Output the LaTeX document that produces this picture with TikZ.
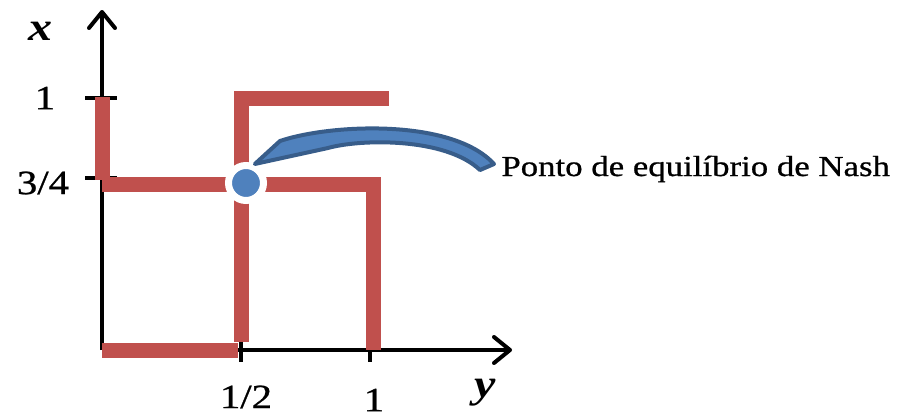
\documentclass[tikz,border=0pt]{standalone}
\usepackage{fontspec}
\setmainfont{Liberation Serif}[FakeStretch=1.2, UprightFeatures={FakeBold=0.8}]
\usetikzlibrary{arrows.meta}
\definecolor{nashred}{HTML}{C0504D}
\definecolor{nashblue}{HTML}{4F81BD}
\definecolor{nashedge}{HTML}{385D8A}

\begin{document}
\begin{tikzpicture}[
  x=0.5pt, y=-0.5pt,
  axis/.style={line width=2pt, -{Straight Barb[length=8pt, width=13pt, round]}},
  tickmark/.style={line width=2pt},
  redline/.style={line width=7.5pt, draw=nashred},
  num/.style={font=\fontsize{17}{20}\selectfont},
  var/.style={font=\fontsize{20}{24}\selectfont\bfseries\itshape},
  callout/.style={fill=nashblue, draw=nashedge, line width=2pt, line join=round}
]
\useasboundingbox (0,0) rectangle (905,418);

% axes
\coordinate (o) at (102,350);
\coordinate (ytop) at (102,10);
\coordinate (xend) at (512,350);
\draw[axis] (o) -- (ytop);
\draw[axis] (o) -- (xend);

% ticks
\draw[tickmark] (85,98) -- (117,98);
\draw[tickmark] (85,178) -- (117,178);
\draw[tickmark] (241,341) -- (241,362);
\draw[tickmark] (370,339) -- (370,362);

% best responses
\draw[redline] (102,97) -- (102,180);
\draw[redline] (102,184) -- (371,184);
\draw[redline] (373,177) -- (373,350);
\draw[redline] (102,350) -- (238,350);
\draw[redline] (241,91) -- (241,342);
\draw[redline] (235,98) -- (389,98);

% equilibrium point
\node[circle, fill=nashblue, draw=white, line width=3.5pt, minimum size=17.5pt, inner sep=0pt] (nash) at (246,183) {};
\draw[callout] (nash.65) -- (280,141) .. controls (330,124) and (452,118) .. (494,164)
  -- (480,170) .. controls (445,137) and (360,139) .. (328,148) -- cycle;
\node[font=\fontsize{14.5}{17}\selectfont, anchor=base west, inner sep=0pt] (label) at (501,176) {Ponto de equilíbrio de Nash};

% axis labels
\node[var] (xlbl) at (40,31) {x};
\node[var] (ylbl) at (485,393) {y};
\node[num] (one) at (45,98) {1};
\node[num] (threeq) at (43,183) {3/4};
\node[num] (half) at (246,397) {1/2};
\node[num] (oneb) at (374,400) {1};
\end{tikzpicture}
\end{document}
